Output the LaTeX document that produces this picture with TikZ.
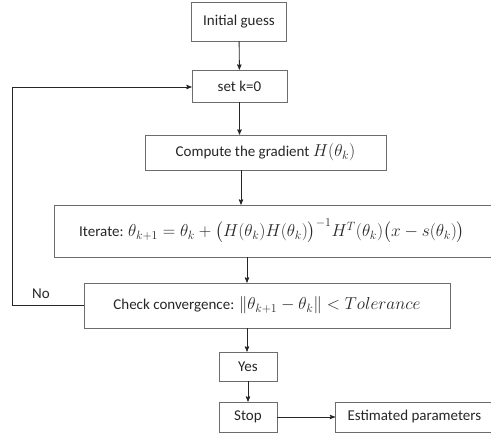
\documentclass[tikz,border=0pt]{standalone}
\usepackage{amsmath}
\usepackage{fontspec}
\setmainfont{Carlito}
\usetikzlibrary{arrows, positioning}

\newcommand{\mth}[1]{{\fontsize{17}{20}\selectfont$#1$}}

\begin{document}
\begin{tikzpicture}[x=1pt,y=-1pt,>=stealth',thick,
 box/.style={rectangle,draw=gray!85!black,line width=0.8pt,text=black!85,
   font=\fontsize{15}{18}\selectfont,inner sep=2pt},
 link/.style={->,draw=black!85,line width=0.9pt}]

  \useasboundingbox (0,0) rectangle (491,433);
  \clip (0,0) rectangle (491,433);

  \node[box,minimum width=95pt,minimum height=39pt] (init) at (239,21.5) {Initial guess};
  \node[box,minimum width=95pt,minimum height=32pt] (setk) at (239.5,86) {set k=0};
  \node[box,minimum width=241pt,minimum height=35pt] (grad) at (265.5,152.5) {Compute the gradient \mth{H(\theta_k)}};
  \node[box,minimum width=452pt,minimum height=52pt] (iter) at (280,231)
    {\hspace*{-16pt}Iterate: \mth{\theta_{k+1}=\theta_k+\bigl(H(\theta_k)H(\theta_k)\bigr)^{-1}H^T(\theta_k)\bigl(x-s(\theta_k)\bigr)}};
  \node[box,minimum width=366pt,minimum height=45pt] (check) at (267,305.5)
    {Check convergence: \mth{\lVert\theta_{k+1}-\theta_k\rVert<Tolerance}};
  \node[box,minimum width=58pt,minimum height=29pt] (yes) at (248,366.5) {Yes};
  \node[box,minimum width=58pt,minimum height=30pt] (stop) at (248,417) {Stop};
  \node[box,minimum width=170pt,minimum height=30pt,anchor=west] (est) at (335,417)
    {\hspace*{-12pt}Estimated parameters\hfill};

  \node[font=\fontsize{15}{18}\selectfont,text=black!85] (no) at (41,294) {No};
  \coordinate (back1) at (12,305);
  \coordinate (back2) at (12,87);

  % main flow
  \draw[link] (init) -- (setk);
  \draw[link] (setk) -- (setk |- grad.north);
  \draw[link] ([xshift=-24.5pt]grad.south) -- ([xshift=-24.5pt]grad.south |- iter.north);
  \draw[link] ([xshift=-33pt]iter.south) -- ([xshift=-33pt]iter.south |- check.north);
  \draw[link] ([xshift=-20pt]check.south) -- ([xshift=-20pt]check.south |- yes.north);
  \draw[link] (yes) -- (stop);
  \draw[link] (stop) -- (est);

  % loop back
  \draw[link] (check.west |- back1) -- (back1) -- (back2) -- (setk.west |- back2);
\end{tikzpicture}
\end{document}
